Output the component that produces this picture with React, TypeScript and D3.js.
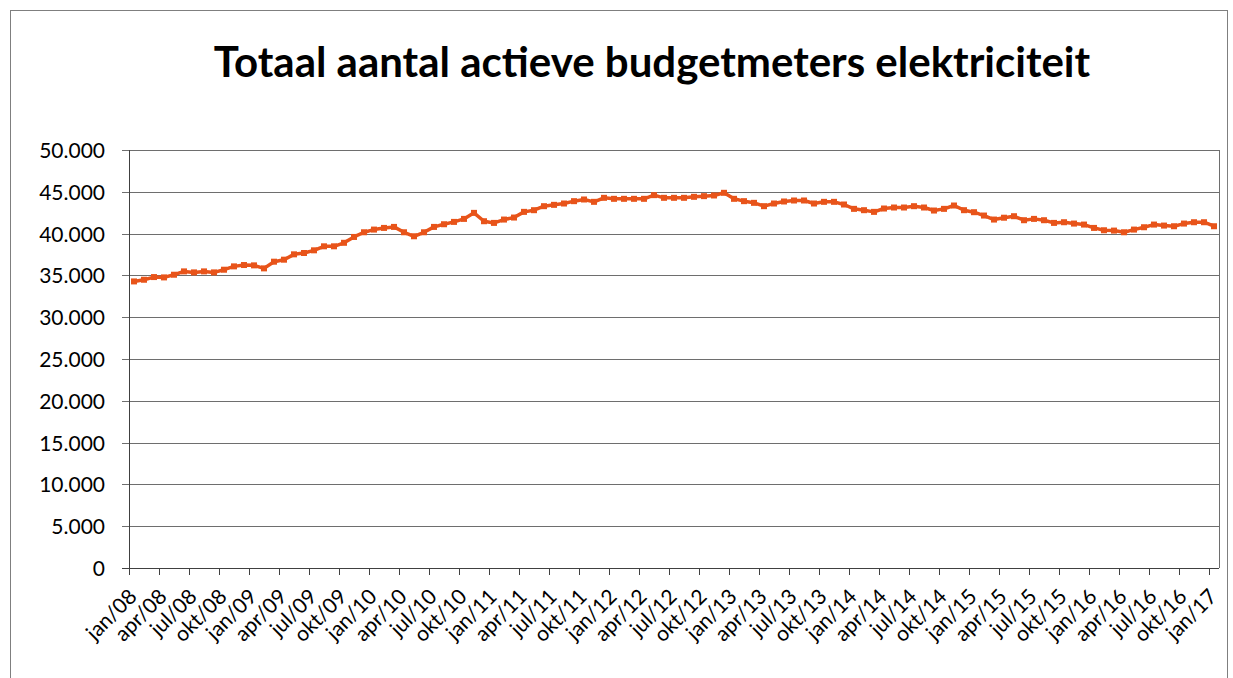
import React from "react";
import * as d3 from "d3";

const TITLE = "Totaal aantal actieve budgetmeters elektriciteit";

// monthly values jan/08 .. jan/17 (109 months)
const values2008 = [34280, 34480, 34800, 34760, 35080, 35480, 35360, 35480, 35360, 35680, 36080, 36240];
const values2009 = [36200, 35840, 36640, 36880, 37520, 37680, 38000, 38480, 38480, 38900, 39600, 40160];
const values2010 = [40480, 40680, 40800, 40160, 39680, 40160, 40800, 41120, 41400, 41760, 42480, 41480];
const values2011 = [41280, 41680, 41920, 42600, 42800, 43280, 43440, 43600, 43880, 44080, 43800, 44280];
const values2012 = [44160, 44160, 44160, 44160, 44600, 44280, 44280, 44280, 44400, 44480, 44560, 44880];
const values2013 = [44160, 43880, 43680, 43280, 43600, 43840, 43960, 43960, 43600, 43800, 43800, 43480];
const values2014 = [42960, 42800, 42600, 43000, 43120, 43120, 43280, 43120, 42760, 42960, 43360, 42800];
const values2015 = [42560, 42160, 41680, 41900, 42080, 41600, 41760, 41600, 41280, 41360, 41200, 41080];
const values2016 = [40680, 40400, 40360, 40160, 40480, 40760, 41080, 40960, 40880, 41200, 41360, 41360];
const values2017 = [40880];

const values = [
  ...values2008, ...values2009, ...values2010, ...values2011, ...values2012,
  ...values2013, ...values2014, ...values2015, ...values2016, ...values2017,
];

const xTickLabels = [
  "jan/08", "apr/08", "jul/08", "okt/08",
  "jan/09", "apr/09", "jul/09", "okt/09",
  "jan/10", "apr/10", "jul/10", "okt/10",
  "jan/11", "apr/11", "jul/11", "okt/11",
  "jan/12", "apr/12", "jul/12", "okt/12",
  "jan/13", "apr/13", "jul/13", "okt/13",
  "jan/14", "apr/14", "jul/14", "okt/14",
  "jan/15", "apr/15", "jul/15", "okt/15",
  "jan/16", "apr/16", "jul/16", "okt/16",
  "jan/17",
];

const yTicks = [0, 5000, 10000, 15000, 20000, 25000, 30000, 35000, 40000, 45000, 50000];

const W = 1233;
const H = 678;
const plot = { left: 129, right: 1219, top: 150, bottom: 568 };
const LINE = "#E8541A";
const GRID = "#6e6e6e";
const FONT = "Lato, 'Open Sans', sans-serif";

const fmt = (v: number) => d3.format(",")(v).replace(/,/g, ".");

export default function App() {
  const x = d3
    .scaleBand<number>()
    .domain(values.map((_, i) => i))
    .range([plot.left, plot.right])
    .padding(0);
  const bw = x.bandwidth();
  const cx = (i: number) => (x(i) as number) + bw / 2;
  const y = d3.scaleLinear().domain([0, 50000]).range([plot.bottom, plot.top]);

  const line = d3
    .line<number>()
    .x((_, i) => cx(i))
    .y((d) => y(d));

  return (
    <svg
      width={W}
      height={H}
      style={{ position: "fixed", left: 0, top: 0, background: "#fff" }}
      fontFamily={FONT}
    >
      <rect x={0} y={0} width={W} height={H} fill="#fff" />
      <rect x={10.5} y={10.5} width={1217} height={720} fill="none" stroke="#7f7f7f" strokeWidth={1} />
      <text x={652} y={77} textAnchor="middle" fontSize={42} fontWeight={700} fill="#000">
        {TITLE}
      </text>

      {/* gridlines & y ticks */}
      {yTicks.map((t) => (
        <g key={t}>
          <line
            x1={plot.left - 7}
            x2={plot.right}
            y1={Math.round(y(t)) + 0.5}
            y2={Math.round(y(t)) + 0.5}
            stroke={t === 0 ? "#404040" : GRID}
            strokeWidth={1}
          />
          <text
            x={105}
            y={Math.round(y(t)) + 0.5}
            dy="0.35em"
            textAnchor="end"
            fontSize={21}
            fill="#000"
          >
            {fmt(t)}
          </text>
        </g>
      ))}

      {/* plot border right & left axis */}
      <line x1={plot.right + 0.5} x2={plot.right + 0.5} y1={plot.top} y2={plot.bottom} stroke={GRID} />
      <line x1={plot.left + 0.5} x2={plot.left + 0.5} y1={plot.top} y2={plot.bottom + 7} stroke="#404040" />

      {/* x ticks & labels */}
      {xTickLabels.map((lab, k) => {
        const i = k * 3;
        const tx = Math.round(x(i) as number) + 0.5;
        const lx = cx(i) + 4;
        return (
          <g key={lab}>
            <line x1={tx} x2={tx} y1={plot.bottom} y2={plot.bottom + 7} stroke="#404040" />
            <text
              transform={`translate(${lx},${plot.bottom + 30}) rotate(-45)`}
              textAnchor="end"
              fontSize={21}
              fill="#000"
            >
              {lab}
            </text>
          </g>
        );
      })}

      {/* series */}
      <path d={line(values) || ""} fill="none" stroke={LINE} strokeWidth={3.5} strokeLinejoin="round" />
      {values.map((v, i) => (
        <rect key={i} x={cx(i) - 3} y={y(v) - 3} width={6} height={6} fill={LINE} />
      ))}
    </svg>
  );
}
